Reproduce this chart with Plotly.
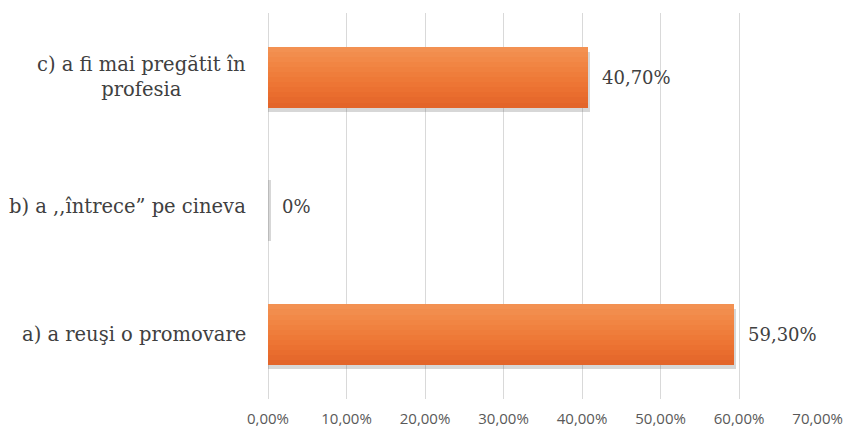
import plotly.graph_objects as go

# Survey answers (bottom to top) and their shares in percent
categories = ["a) a reuşi o promovare", "b) a ,,întrece” pe cineva", "c) a fi mai pregătit în<br>profesia"]
values = [59.30, 0.0, 40.70]
tick_values = [0, 10, 20, 30, 40, 50, 60, 70]
tick_labels = [f"{t:.2f}".replace(".", ",") + "%" for t in tick_values]

bar_width = 0.47
shadow_drop = 0.035
shadow_extra = 0.35

SERIF = "DejaVu Serif"

# vertical gradient of the bar fill, bottom (dark) to top (light)
grad_colors = ["#E3652A", "#E6692C", "#E96D2E", "#EB7131", "#ED7534", "#EE7937",
               "#EF7D3B", "#F0813F", "#F18543", "#F28948", "#F28D4D", "#F39152"]

fig = go.Figure()

# soft grey shadow under each bar
fig.add_trace(go.Bar(
    y=categories, x=[v + shadow_extra for v in values], orientation="h",
    width=bar_width, offset=-bar_width / 2 - shadow_drop,
    marker=dict(color="rgba(110,110,110,0.28)", line=dict(width=0)),
    hoverinfo="skip", showlegend=False,
))

# each layer covers the bar from its top edge downwards; later layers are shorter and lighter
n = len(grad_colors)
for i, col in enumerate(grad_colors):
    h = bar_width * (n - i) / n
    fig.add_trace(go.Bar(
        y=categories, x=values, orientation="h",
        width=h, offset=bar_width / 2 - h,
        marker=dict(color=col, line=dict(width=0)),
        hoverinfo="skip", showlegend=False,
    ))

def fmt(v):
    if v == 0:
        return "0%"
    return f"{v:.2f}".replace(".", ",") + "%"

annotations = []
for cat, v in zip(categories, values):
    annotations.append(dict(
        x=v, y=cat, xref="x", yref="y", text=fmt(v), showarrow=False,
        xanchor="left", yanchor="middle", xshift=12,
        font=dict(family=SERIF, size=18, color="#404040"),
    ))
    annotations.append(dict(
        x=0, y=cat, xref="paper", yref="y", text=cat, showarrow=False,
        xanchor="right", yanchor="middle", xshift=-20, align="center",
        font=dict(family=SERIF, size=19.5, color="#404040"),
    ))

fig.update_layout(
    width=848, height=429,
    margin=dict(l=268, r=30, t=13, b=30),
    paper_bgcolor="white", plot_bgcolor="white",
    barmode="overlay", bargap=0,
    annotations=annotations,
    xaxis=dict(
        range=[0, 70.05], tickvals=tick_values, ticktext=tick_labels,
        showgrid=True, gridcolor="#D9D9D9", gridwidth=1,
        zeroline=True, zerolinecolor="#D9D9D9", zerolinewidth=1,
        showline=False, ticks="", ticklabelstandoff=9, automargin=False,
        tickfont=dict(family="Open Sans", size=15, color="#595959"),
    ),
    yaxis=dict(
        categoryorder="array", categoryarray=categories,
        range=[-0.5, 2.5], showticklabels=False, showgrid=False,
        zeroline=False, showline=False, ticks="", automargin=False,
    ),
)

fig.write_html("out.html")
